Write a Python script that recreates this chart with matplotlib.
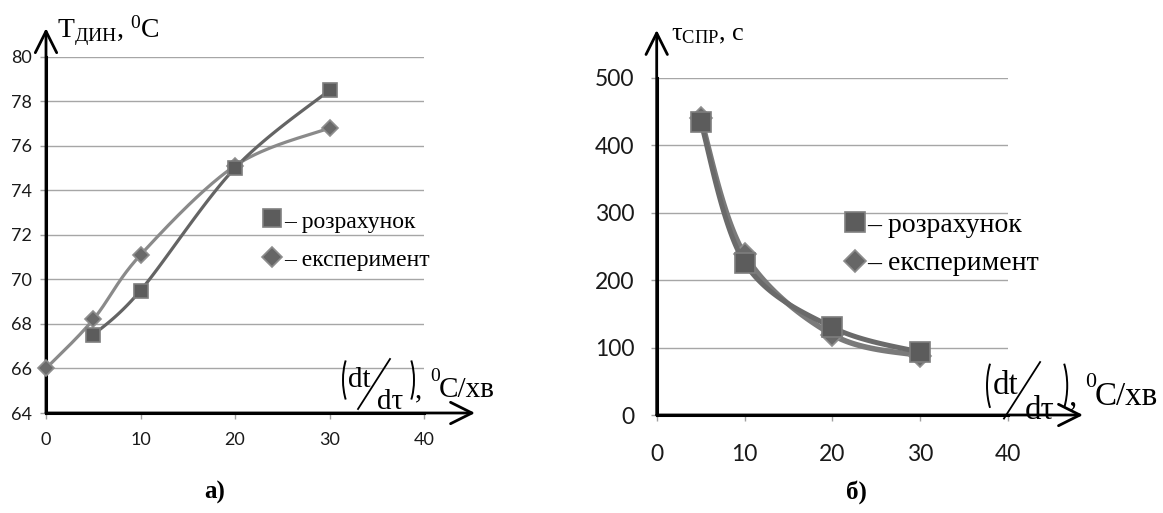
import numpy as np
import matplotlib
matplotlib.use("Agg")
import matplotlib.pyplot as plt
from matplotlib.patches import Arc
from matplotlib.lines import Line2D
from matplotlib.transforms import Affine2D

# panel a) dynamic temperature vs heating rate
rate_a_calc = [5, 10, 20, 30]
T_calc = [67.5, 69.5, 75.0, 78.5]
rate_a_exp = [0, 5, 10, 20, 30]
T_exp = [66.0, 68.2, 71.1, 75.1, 76.8]

# panel b) time vs heating rate
rate_b = [5, 10, 20, 30]
tau_calc = [435, 226, 130, 93]
tau_exp = [440, 238, 119, 88]

xticks = [0, 10, 20, 30, 40]
yticks_a = [64, 66, 68, 70, 72, 74, 76, 78, 80]
yticks_b = [0, 100, 200, 300, 400, 500]

lbl_calc = "– розрахунок"
lbl_exp = "– експеримент"

W, H = 1163, 513
SERIF = "Liberation Serif"
TICKFONT = "Lato"

plt.rcParams['mathtext.fontset'] = 'custom'
plt.rcParams['mathtext.rm'] = SERIF
plt.rcParams['mathtext.it'] = SERIF + ':italic'


def smooth(x, y, n=40):
    # excel-like smoothed line (bezier through the points)
    p = np.column_stack([x, y]).astype(float)
    if len(p) < 3:
        return p[:, 0], p[:, 1]
    ext = np.vstack([p[0], p, p[-1]])
    out = []
    t = np.linspace(0, 1, n)[:, None]
    for i in range(1, len(ext) - 2):
        p0, p3 = ext[i], ext[i + 1]
        c1 = p0 + (ext[i + 1] - ext[i - 1]) / 6
        c2 = p3 - (ext[i + 2] - ext[i]) / 6
        seg = ((1 - t) ** 3) * p0 + 3 * ((1 - t) ** 2) * t * c1 + 3 * (1 - t) * t ** 2 * c2 + t ** 3 * p3
        out.append(seg if i == 1 else seg[1:])
    out = np.vstack(out)
    return out[:, 0], out[:, 1]


fig = plt.figure(figsize=(W / 100, H / 100), dpi=100)
# pixel coordinates of the reference, y downwards
px = Affine2D().scale(1 / W, -1 / H).translate(0, 1) + fig.transFigure


def frame(ax, ylim, yticks, tipx, tipy, fs, padx, pady):
    ax.set_xlim(0, 40)
    ax.set_ylim(*ylim)
    ax.set_xticks(xticks)
    ax.set_yticks(yticks)
    for s in ['top', 'right']:
        ax.spines[s].set_visible(False)
    for s in ['left', 'bottom']:
        ax.spines[s].set_linewidth(2.2)
        ax.spines[s].set_color('black')
    ax.yaxis.grid(True, color='#a6a6a6', lw=1.0)
    ax.set_axisbelow(True)
    ax.tick_params(axis='x', direction='out', length=4, width=1, color='#a0a0a0', pad=padx)
    ax.tick_params(axis='y', direction='out', length=4, width=1, color='#a0a0a0', pad=pady)
    for lab in ax.get_xticklabels() + ax.get_yticklabels():
        lab.set_fontfamily(TICKFONT)
        lab.set_fontsize(fs)
        lab.set_color('#1a1a1a')
    arr = dict(arrowstyle='->,head_length=0.7,head_width=0.35', lw=2.0, color='black',
               shrinkA=0, shrinkB=0, mutation_scale=22)
    ax.annotate('', xy=(tipx, 0), xytext=(0, 0), xycoords='axes fraction',
                textcoords='axes fraction', arrowprops=arr, annotation_clip=False)
    ax.annotate('', xy=(0, tipy), xytext=(0, 0), xycoords='axes fraction',
                textcoords='axes fraction', arrowprops=arr, annotation_clip=False)


def rate_label(ox, oy, s):
    fs = 21 * s
    kw = dict(transform=px, family=SERIF, color='black')
    fig.add_artist(Arc((ox + 16.4 * s, oy + 29 * s), 32.8 * s, 70.8 * s, theta1=125, theta2=235,
                       transform=px, lw=1.4, color='black'))
    fig.add_artist(Arc((ox + 54.6 * s, oy + 29 * s), 32.8 * s, 70.8 * s, theta1=-55, theta2=55,
                       transform=px, lw=1.4, color='black'))
    fig.text(ox + 5 * s, oy + 36 * s, "dt", fontsize=fs, va='baseline', **kw)
    fig.add_artist(Line2D([ox + 15 * s, ox + 47 * s], [oy + 58 * s, oy + 8 * s],
                          transform=px, lw=1.3, color='black'))
    fig.text(ox + 33.6 * s, oy + 58 * s, "dτ", fontsize=fs, va='baseline', **kw)
    fig.text(ox + 72 * s, oy + 46 * s, ",", fontsize=fs, va='baseline', **kw)
    fig.text(ox + 87 * s, oy + 30 * s, "0", fontsize=14 * s, va='baseline', **kw)
    fig.text(ox + 95.5 * s, oy + 46 * s, "C/хв", fontsize=fs, va='baseline', **kw)


def legend(x, y1, y2, tx, fs, msq, mdi):
    fig.add_artist(Line2D([x], [y1], marker='s', ms=msq, mfc='#5c5c5c', mec='#808080',
                          mew=1.2, transform=px, ls='none'))
    fig.add_artist(Line2D([x], [y2], marker='D', ms=mdi, mfc='#666666', mec='#8c8c8c',
                          mew=1.2, transform=px, ls='none'))
    fig.text(tx, y1 + 10, lbl_calc, fontsize=fs, family=SERIF, va='baseline', transform=px)
    fig.text(tx, y2 + 9, lbl_exp, fontsize=fs, family=SERIF, va='baseline', transform=px)


# ---- panel a
ax1 = fig.add_axes([46 / W, 1 - 413 / H, (424 - 46) / W, (413 - 56.7) / H])
frame(ax1, (64, 80), yticks_a, 1.135, 1.08, 13, 10, 6)
xs, ys = smooth(rate_a_exp, T_exp)
ax1.plot(xs, ys, color='#8a8a8a', lw=2.3, clip_on=False, zorder=3)
ax1.plot(rate_a_exp, T_exp, ls='none', marker='D', ms=8.5, mfc='#6a6a6a', mec='#8e8e8e',
         mew=1.2, clip_on=False, zorder=4)
xs, ys = smooth(rate_a_calc, T_calc)
ax1.plot(xs, ys, color='#646464', lw=2.3, clip_on=False, zorder=5)
ax1.plot(rate_a_calc, T_calc, ls='none', marker='s', ms=10.5, mfc='#5c5c5c', mec='#7e7e7e',
         mew=1.2, clip_on=False, zorder=6)

fig.text(57, 38, r"T$_{\mathrm{ДИН}}$, $^{0}$C", fontsize=20, family=SERIF,
         transform=px, va='baseline')
rate_label(343, 351, 1.0)
legend(272, 218, 257, 284, 17, 13, 10)
fig.text(215, 499, "а)", fontsize=18, family=SERIF, weight='bold', ha='center',
         va='baseline', transform=px)

# ---- panel b
ax2 = fig.add_axes([656.7 / W, 1 - 415 / H, (1008 - 656.7) / W, (415 - 77.7) / H])
frame(ax2, (0, 500), yticks_b, 1.2135, 1.1414, 16.5, 17, 12)
xs, ys = smooth(rate_b, tau_exp)
ax2.plot(xs, ys, color='#7a7a7a', lw=4.0, zorder=3)
ax2.plot(rate_b, tau_exp, ls='none', marker='D', ms=11, mfc='#6a6a6a', mec='#8e8e8e',
         mew=1.2, zorder=4)
xs, ys = smooth(rate_b, tau_calc)
ax2.plot(xs, ys, color='#6a6a6a', lw=3.6, zorder=5)
ax2.plot(rate_b, tau_calc, ls='none', marker='s', ms=14, mfc='#5c5c5c', mec='#7e7e7e',
         mew=1.2, clip_on=False, zorder=6)

fig.text(671, 40, r"τ$_{\mathrm{СПР}}$, с", fontsize=19, family=SERIF,
         transform=px, va='baseline')
rate_label(987, 353, 1.13)
legend(855, 222, 261, 867, 20, 15, 11)
fig.text(856, 499, "б)", fontsize=18, family=SERIF, weight='bold', ha='center',
         va='baseline', transform=px)

fig.savefig("out.png", dpi=100)
